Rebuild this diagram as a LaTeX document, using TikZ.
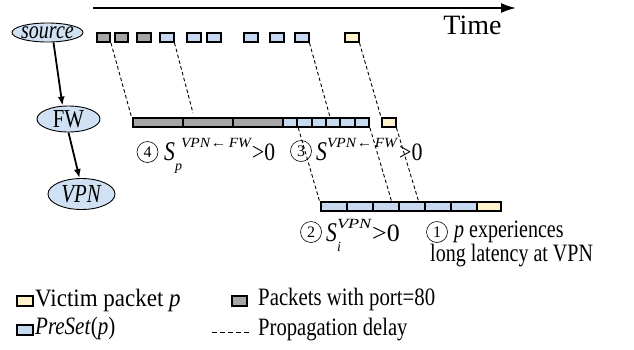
\documentclass[tikz,border=0pt]{standalone}
\usepackage{fontspec}
\setmainfont[FakeStretch=0.8]{Liberation Serif}
\newfontfamily\plainserif{Liberation Serif}
\usetikzlibrary{shapes.geometric,arrows.meta,calc}
\definecolor{pktblue}{RGB}{198,217,241}
\definecolor{pktgray}{RGB}{166,166,166}
\definecolor{pktyellow}{RGB}{255,242,204}
\definecolor{nodeblue}{RGB}{207,225,242}
% small scripts attached to S
\newcommand\suptxt[1]{\raisebox{0.5em}{\plainserif\fontsize{14}{14}\selectfont #1}}
\newcommand\subtxt[1]{\rlap{\raisebox{-0.4em}{\plainserif\fontsize{14}{14}\selectfont #1}}}
\newcommand\bigS{{\fontsize{27}{27}\selectfont\textit{S}}}
\begin{document}
\begin{tikzpicture}[x=1pt,y=-1pt,
  pkt/.style={draw, line width=2pt, inner sep=0pt, anchor=north west},
  ell/.style={draw, ellipse, line width=0.9pt, fill=nodeblue, inner sep=0pt},
  lbl/.style={font=\fontsize{25}{22}\selectfont, inner sep=0pt},
  cnum/.style={draw, circle, line width=0.6pt, minimum size=21pt, inner sep=0pt,
    font=\plainserif\fontsize{16}{16}\selectfont},
  prop/.style={dash pattern=on 3.5pt off 2.5pt, line width=0.9pt},
  flow/.style={line width=1.8pt, -{Latex[length=9pt,width=7pt]}}]
\useasboundingbox (0,0) rectangle (634,349);

% time axis
\coordinate (t0) at (93,8);
\coordinate (t1) at (516,8);
\draw[line width=1.8pt, -{Latex[length=15pt,width=10pt]}] (t0) -- (t1);
\node[font=\plainserif\fontsize{28}{28}\selectfont, inner sep=0pt] (time) at (472.5,25) {Time};

% service chain
\node[ell, minimum width=71pt, minimum height=19pt] (src) at (47.5,32.5) {\makebox[0pt]{\fontsize{25}{25}\selectfont\textit{source}}};
\node[ell, minimum width=63pt, minimum height=26pt] (fw) at (68.5,119) {\makebox[0pt]{\fontsize{26}{26}\selectfont FW}};
\node[ell, minimum width=67pt, minimum height=31pt] (vpn) at (81.5,194) {\makebox[0pt]{\fontsize{26}{26}\selectfont\textit{VPN}}};
\draw[flow] ([xshift=6pt]src.south) -- ([xshift=-6pt]fw.north);
\draw[flow] (fw.south) -- ([xshift=-2pt]vpn.north);

% packets leaving the source
\foreach \x/\c [count=\i] in {95.5/pktgray,113.5/pktgray,136/pktgray,159/pktblue,186/pktblue,
    206/pktblue,243/pktblue,269/pktblue,294/pktblue,344/pktyellow}
  \node[pkt, fill=\c, minimum width=13.5pt, minimum height=9pt] (s\i) at (\x,32) {};

% queue at FW
\foreach \x [count=\i] in {131.5,182,232}
  \node[pkt, fill=pktgray, minimum width=50pt, minimum height=9pt] (fwg\i) at (\x,117) {};
\foreach \i in {1,...,6}
  \node[pkt, fill=pktblue, minimum width=14.33pt, minimum height=9pt] (fwb\i) at ({282+14.33*(\i-1)},117) {};
\node[pkt, fill=pktyellow, minimum width=13.5pt, minimum height=9pt] (fwy) at (381,117) {};

% queue at VPN
\foreach \i in {1,...,6}
  \node[pkt, fill=pktblue, minimum width=26pt, minimum height=9pt] (vb\i) at ({319.5+26*(\i-1)},201) {};
\node[pkt, fill=pktyellow, minimum width=24pt, minimum height=9pt] (vy) at (475.5,201) {};

% propagation delays
\coordinate (l2end) at (193,113);
\draw[prop] (s1.south east) -- (fwg1.north west);
\draw[prop] (s4.south east) -- (l2end);
\draw[prop] (s9.south east) -- ([xshift=5pt]fwb4.north west);
\draw[prop] (s10.south east) -- (fwy.north west);
\draw[prop] (fwb1.south east) -- (vb1.north west);
\draw[prop] (fwb6.south east) -- ([xshift=-8pt]vb3.north east);
\draw[prop] (fwy.south east) -- ([xshift=-7pt]vb4.north east);

% annotations
\node[cnum] (c4) at (147.5,152) {4};
\node[lbl, anchor=base west] (lab4) at (164,160) {\bigS\subtxt{\textit{p}}\hspace{6pt}\suptxt{\scalebox{1.1}[1]{\textit{VPN}←\,\textit{FW}}}\scalebox{1.08}[1]{>0}};
\node[cnum] (c3) at (301,151) {3};
\node[lbl, anchor=base west] (lab3) at (316,160) {\bigS\suptxt{\scalebox{1.1}[1]{\textit{VPN}←\,\textit{FW}}}\hspace{1pt}\scalebox{1.1}[1]{>0}};
\node[cnum] (c2) at (311,232) {2};
\node[lbl, anchor=base west] (lab2) at (326,241) {\bigS\subtxt{\textit{i}}\suptxt{\scalebox{1.3}[1]{\textit{VPN}}}\scalebox{1.3}[1]{>0}};
\node[cnum] (c1) at (437,232) {1};
\node[lbl, align=left, anchor=north west] (lab1) at (430,221) {\hspace*{24pt}\textit{p} experiences\\long latency at VPN};

% legend
\node[pkt, fill=pktyellow, minimum width=16pt, minimum height=10pt] (kv) at (16,295) {};
\node[lbl, anchor=base west] (kvt) at (35,306.5) {\scalebox{1.15}[1]{Victim packet \textit{p}}};
\node[pkt, fill=pktblue, minimum width=16pt, minimum height=10pt] (kp) at (16,324) {};
\node[lbl, anchor=base west] (kpt) at (35,334) {\scalebox{1.05}[1]{\textit{PreSet}(\textit{p})}};
\node[pkt, fill=pktgray, minimum width=15pt, minimum height=10pt] (kg) at (231,295) {};
\node[lbl, anchor=base west] (kgt) at (258,305) {\scalebox{1.04}[1]{Packets with port=80}};
\coordinate (kd0) at (212,332);
\coordinate (kd1) at (250,332);
\draw[dash pattern=on 5pt off 3pt, line width=0.9pt] (kd0) -- (kd1);
\node[lbl, anchor=base west] (kdt) at (258,335) {\scalebox{1.03}[1]{Propagation delay}};
\end{tikzpicture}
\end{document}
